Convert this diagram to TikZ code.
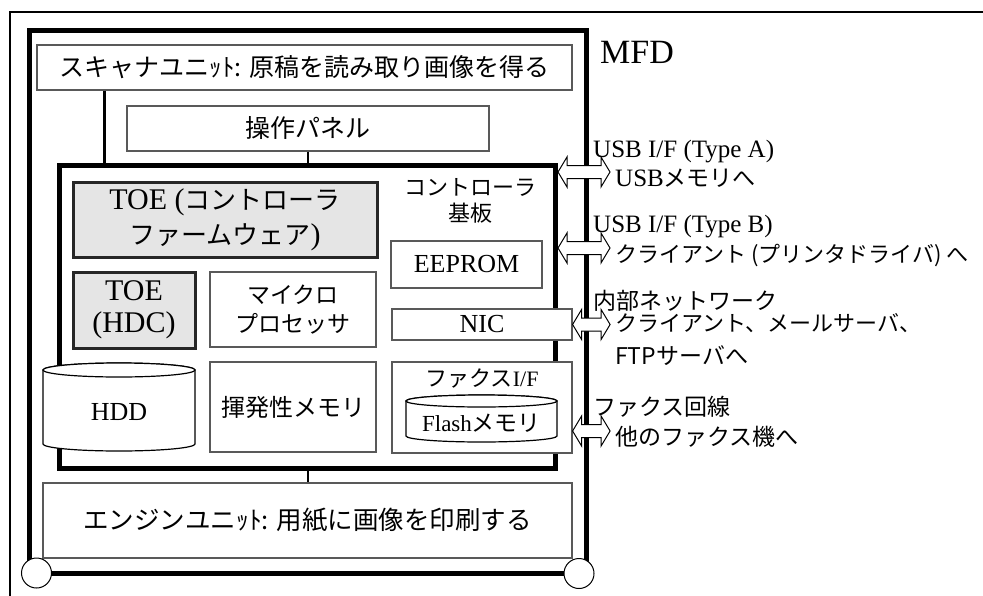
\documentclass[tikz,border=0pt]{standalone}
\usepackage{fontspec}
\setmainfont{Liberation Serif}
\newfontfamily\jpf{Noto Sans CJK JP}
\newcommand\jt[1]{{\jpf #1}}
\newcommand\fs[1]{\fontsize{#1}{#1}\selectfont}
\newcommand\cyl[5]{%
  \filldraw[cylst] (#1-#2,#3) -- (#1-#2,#4) arc[start angle=180,end angle=360,x radius=#2pt,y radius=#5pt]
    -- (#1+#2,#3) arc[start angle=0,end angle=180,x radius=#2pt,y radius=#5pt] -- cycle;
  \draw[cylst] (#1,#3) ellipse[x radius=#2pt,y radius=#5pt];}
\newcommand\harr[2]{\draw[harrow] (#1) -- ++(9,-15) -- ++(0,8.5) -- ++(#2-18,0) -- ++(0,-8.5) -- ++(9,15)
  -- ++(-9,15) -- ++(0,-8.5) -- ++(-#2+18,0) -- ++(0,8.5) -- cycle;}
\tikzset{
  thinbox/.style={draw=black!65, line width=1.2pt, fill=white, inner sep=0pt},
  graybox/.style={draw=black!85, line width=3pt, fill=gray!20, inner sep=0pt},
  heavy/.style={draw=black, line width=5pt, inner sep=0pt},
  conn/.style={draw=black, line width=2.5pt},
  frame/.style={draw=black, line width=2pt},
  cylst/.style={draw=black, fill=white, line width=1.2pt},
  harrow/.style={draw=black, fill=white, line width=1pt, line join=miter},
  lbl/.style={anchor=base west, inner sep=0pt},
  ring/.style={circle, draw=black, fill=white, line width=1pt, minimum size=30pt, inner sep=0pt},
}
\begin{document}
\begin{tikzpicture}[x=1pt,y=-1pt]
\useasboundingbox (0,0) rectangle (983,595);
% outer frame
\draw[frame] (10,600) -- (10,12) -- (990,12);
% MFD
\node[heavy, minimum width=557pt, minimum height=543pt] (mfd) at (308,302) {};
\node[lbl, font=\fs{34}] (mfdlbl) at (600,63) {MFD};
% scanner and panel
\node[thinbox, minimum width=535pt, minimum height=45pt, font=\jpf\fs{25}] (scan) at (304.5,67.5) {スキャナユニｯﾄ: 原稿を読み取り画像を得る};
\node[thinbox, minimum width=362pt, minimum height=45pt, font=\jpf\fs{25}] (panel) at (308,128.5) {操作パネル};
% controller board
\node[heavy, minimum width=496pt, minimum height=302.5pt] (ctrl) at (307.5,316.75) {};
\draw[conn] (104.5,0 |- scan.south) -- (104.5,0 |- ctrl.north);
\draw[conn] (panel.south) -- (panel.south |- ctrl.north);
\node[font=\jpf\fontsize{22}{25.5}\selectfont, align=center, inner sep=0pt] (ctrllbl) at (470,201) {コントローラ\\基板};
% inner boxes
\node[graybox, minimum width=304pt, minimum height=75pt, align=center, font=\fontsize{30}{35}\selectfont] (toe) at (225,219.5) {TOE (\jt{\fs{26}コントローラ}\\\jt{\fs{26}ファームウェア})};
\node[graybox, minimum width=122pt, minimum height=76pt, align=center, font=\fontsize{30}{32}\selectfont] (hdc) at (134,310) {TOE\\(HDC)};
\node[thinbox, minimum width=166pt, minimum height=75pt, align=center, font=\jpf\fontsize{23}{29}\selectfont] (cpu) at (293,309.5) {マイクロ\\プロセッサ};
\node[thinbox, minimum width=166pt, minimum height=90pt, font=\jpf\fs{24}] (ram) at (293,407) {揮発性メモリ};
\node[thinbox, minimum width=151pt, minimum height=47pt, font=\fs{26}] (eeprom) at (466.5,264.5) {EEPROM};
\node[thinbox, minimum width=180pt, minimum height=31pt, font=\fs{26}] (nic) at (482,324.5) {NIC};
\node[thinbox, minimum width=180pt, minimum height=91pt] (fax) at (482,407.5) {};
\node[font=\fs{22}, inner sep=0pt] (faxlbl) at (482,378) {\jt{ファクス}I/F};
\cyl{481.5}{75.5}{401}{436}{6}
\node[font=\fs{23}, inner sep=0pt] (flash) at (481.5,423) {Flash\jt{メモリ}};
\cyl{119}{76}{370}{444}{7}
\node[font=\fs{26}, inner sep=0pt] (hdd) at (119,412) {HDD};
% engine
\node[thinbox, minimum width=529pt, minimum height=75pt, font=\jpf\fs{25.5}] (engine) at (307.5,520.5) {エンジンユニｯﾄ: 用紙に画像を印刷する};
\draw[conn] (308,0 |- ctrl.south) -- (308,0 |- engine.north);
% corner circles
\node[ring] (wl) at (36.5,573) {};
\node[ring] (wr) at (579,573.5) {};
% arrows
\coordinate (aA) at (ctrl.east |- 0,172);
\coordinate (aB) at (ctrl.east |- 0,248);
\coordinate (aN) at (nic.east);
\coordinate (aF) at (fax.east |- 0,431);
\harr{aA}{52}
\harr{aB}{52}
\harr{aN}{37.5}
\harr{aF}{37.5}
% labels
\node[lbl, font=\fs{25}] (uA) at (593,157) {USB I/F (Type A)};
\node[lbl, font=\fs{25}] (uA2) at (615,186) {USB\jt{\fs{23}メモリへ}};
\node[lbl, font=\fs{25}] (uB) at (593,232) {USB I/F (Type B)};
\node[lbl, font=\jpf\fs{22}] (uB2) at (615,262) {クライアント (プリンタドライバ) へ};
\node[lbl, font=\jpf\fs{23}] (nw) at (593,309) {内部ネットワーク};
\node[lbl, font=\jpf\fs{22}] (nw2) at (615,331) {クライアント、メールサーバ、};
\node[lbl, font=\jpf\fs{23}] (nw3) at (615,364) {FTPサーバへ};
\node[lbl, font=\jpf\fs{23}] (fx) at (593,415) {ファクス回線};
\node[lbl, font=\jpf\fs{23}] (fx2) at (615,445) {他のファクス機へ};
\end{tikzpicture}
\end{document}
